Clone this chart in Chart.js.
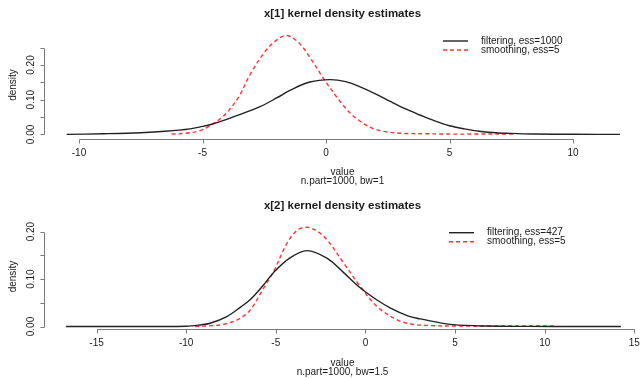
<!DOCTYPE html>
<html lang="en">
<head>
<meta charset="UTF-8">
<title>kernel density estimates</title>
<script src="https://cdn.jsdelivr.net/npm/chart.js"></script>
<style>
  body { margin: 0; background: #fff; }
  canvas { position: absolute; left: 0; }
  #c1 { top: 0; }
  #c2 { top: 189px; }
</style>
</head>
<body>
<canvas id="c1" width="641" height="189"></canvas>
<canvas id="c2" width="641" height="189"></canvas>
<script>
// panel 1: x[1]
const filtX1 = [-10.5, -9, -7.5, -6.5, -5.5, -5, -4.7, -4.2, -3.5, -2.67, -2, -1.46, -0.65, 0.16, 0.8, 1.38, 2, 2.6, 3.2, 3.8, 4.4, 5, 5.6, 6.2, 7, 7.45, 8.5, 10, 11.9];
const filtY1 = [0.000, 0.002, 0.005, 0.009, 0.016, 0.023, 0.028, 0.039, 0.057, 0.080, 0.105, 0.127, 0.151, 0.158, 0.152, 0.137, 0.117, 0.095, 0.074, 0.056, 0.039, 0.025, 0.016, 0.009, 0.004, 0.003, 0.001, 0.0005, 0.000];
const smthX1 = [-6.25, -5.6, -5.1, -4.63, -4.2, -3.9, -3.5, -3.08, -2.54, -2.1, -1.6, -1.1, -0.65, -0.1, 0.57, 1.0, 1.38, 1.8, 2.19, 2.6, 3.1, 4, 5, 6, 7.7];
const smthY1 = [0.001, 0.004, 0.011, 0.028, 0.050, 0.072, 0.112, 0.172, 0.232, 0.266, 0.285, 0.264, 0.222, 0.161, 0.095, 0.060, 0.038, 0.020, 0.011, 0.006, 0.003, 0.002, 0.001, 0.001, 0.001];
const xTicks1 = [-10, -5, 0, 5, 10];
const yTicks1 = [0, 0.05, 0.10, 0.15, 0.20, 0.25];
const yLabels1 = ['0.00', '', '0.10', '', '0.20', ''];

// panel 2: x[2]
const filtX2 = [-16.7, -12, -10, -9.3, -8.66, -7.73, -6.96, -6.42, -5.7, -5.12, -4.19, -3.26, -2.15, -1.2, -0.28, 0.6, 1.4, 2.4, 3.07, 3.6, 4.9, 6.8, 9, 12, 14.25];
const filtY2 = [0, 0, 0.0005, 0.003, 0.007, 0.021, 0.041, 0.057, 0.087, 0.114, 0.145, 0.160, 0.144, 0.113, 0.081, 0.057, 0.039, 0.022, 0.016, 0.012, 0.004, 0.001, 0.0003, 0, 0];
const smthX2 = [-9.5, -8.5, -8, -7.5, -7, -6.42, -5.68, -5.12, -4.37, -3.8, -3.26, -2.7, -2.15, -1.2, -0.28, 0.65, 1.77, 2.6, 3.6, 5, 7, 10.5];
const smthY2 = [0, 0.002, 0.004, 0.009, 0.017, 0.035, 0.081, 0.116, 0.176, 0.203, 0.209, 0.201, 0.183, 0.133, 0.084, 0.042, 0.014, 0.005, 0.002, 0.001, 0.001, 0.001];
const xTicks2 = [-15, -10, -5, 0, 5, 10, 15];
const yTicks2 = [0, 0.05, 0.10, 0.15, 0.20];
const yLabels2 = ['0.00', '', '0.10', '', '0.20'];

const ink = '#1a1a1a';
const axisCol = '#7a7a7a';

function pts(xs, ys) {
    return xs.map((x, i) => ({ x: x, y: ys[i] }));
}

// R-style axes, titles and legend drawn from the chart's own scales
const rStyle = {
    id: 'rStyle',
    afterDraw(chart, args, o) {
        const ctx = chart.ctx;
        const xs = chart.scales.x, ys = chart.scales.y, a = chart.chartArea;
        ctx.save();
        ctx.strokeStyle = axisCol;
        ctx.lineWidth = 1;
        ctx.fillStyle = ink;
        ctx.font = '10px "Liberation Sans", Arial, sans-serif';

        // x axis
        const yb = Math.round(a.bottom) + 0.5;
        ctx.beginPath();
        ctx.moveTo(Math.round(xs.getPixelForValue(o.xTicks[0])) + 0.5, yb);
        ctx.lineTo(Math.round(xs.getPixelForValue(o.xTicks[o.xTicks.length - 1])) + 0.5, yb);
        o.xTicks.forEach(t => {
            const px = Math.round(xs.getPixelForValue(t)) + 0.5;
            ctx.moveTo(px, yb);
            ctx.lineTo(px, yb + 4);
        });
        ctx.stroke();
        ctx.textAlign = 'center';
        ctx.textBaseline = 'middle';
        o.xTicks.forEach(t => {
            ctx.fillText(String(t), xs.getPixelForValue(t), yb + 13.5);
        });

        // y axis
        const xl = Math.round(a.left) + 0.5;
        ctx.beginPath();
        ctx.moveTo(xl, Math.round(ys.getPixelForValue(o.yTicks[0])) + 0.5);
        ctx.lineTo(xl, Math.round(ys.getPixelForValue(o.yTicks[o.yTicks.length - 1])) + 0.5);
        o.yTicks.forEach(t => {
            const py = Math.round(ys.getPixelForValue(t)) + 0.5;
            ctx.moveTo(xl, py);
            ctx.lineTo(xl - 4, py);
        });
        ctx.stroke();
        o.yTicks.forEach((t, i) => {
            if (!o.yLabels[i]) return;
            ctx.save();
            ctx.translate(31, ys.getPixelForValue(t));
            ctx.rotate(-Math.PI / 2);
            ctx.fillText(o.yLabels[i], 0, 0);
            ctx.restore();
        });

        // axis titles
        const cx = (a.left + a.right) / 2;
        ctx.fillText('value', cx, o.xlabY);
        ctx.fillText(o.sub, cx, o.subY);
        ctx.save();
        ctx.translate(13.5, (a.top + a.bottom) / 2);
        ctx.rotate(-Math.PI / 2);
        ctx.fillText('density', 0, 0);
        ctx.restore();

        // main title
        ctx.font = 'bold 11.5px "Liberation Sans", Arial, sans-serif';
        ctx.fillText(o.title, cx, o.titleY);

        // legend
        ctx.font = '10px "Liberation Sans", Arial, sans-serif';
        ctx.textAlign = 'left';
        chart.data.datasets.forEach((ds, i) => {
            const ly = o.legY + i * 9;
            ctx.save();
            ctx.strokeStyle = ds.borderColor;
            ctx.lineWidth = ds.borderWidth;
            ctx.setLineDash(ds.borderDash || []);
            ctx.beginPath();
            ctx.moveTo(o.legX, ly);
            ctx.lineTo(o.legX + 25, ly);
            ctx.stroke();
            ctx.restore();
            ctx.fillText(ds.label, o.legX + 38, ly);
        });
        ctx.restore();
    }
};

function makeChart(id, fx, fy, sx, sy, ess, box, axes) {
    return new Chart(document.getElementById(id), {
        type: 'line',
        data: {
            datasets: [{
                label: 'filtering, ess=' + ess,
                data: pts(fx, fy),
                borderColor: '#222',
                borderWidth: 1.4,
                pointRadius: 0,
                tension: 0.35,
                fill: false
            }, {
                label: 'smoothing, ess=5',
                data: pts(sx, sy),
                borderColor: 'rgba(255, 30, 30, 0.9)',
                borderWidth: 1.4,
                borderDash: [4, 3],
                pointRadius: 0,
                tension: 0.35,
                fill: false
            }]
        },
        options: {
            responsive: false,
            devicePixelRatio: 1,
            animation: false,
            layout: { padding: box.padding },
            scales: {
                x: { type: 'linear', display: false, min: box.xmin, max: box.xmax },
                y: { type: 'linear', display: false, min: box.ymin, max: box.ymax }
            },
            plugins: {
                legend: { display: false },
                tooltip: { enabled: false },
                rStyle: axes
            }
        },
        plugins: [rStyle]
    });
}

makeChart('c1', filtX1, filtY1, smthX1, smthY1, 1000,
    { padding: { left: 44, right: 0, top: 31, bottom: 50 }, xmin: -11.417, xmax: 12.753, ymin: -0.0132, ymax: 0.298 },
    { xTicks: xTicks1, yTicks: yTicks1, yLabels: yLabels1, title: 'x[1] kernel density estimates',
      titleY: 14, xlabY: 172, sub: 'n.part=1000, bw=1', subY: 181, legX: 443, legY: 41 });

makeChart('c2', filtX2, filtY2, smthX2, smthY2, 427,
    { padding: { left: 44, right: 0, top: 35, bottom: 49 }, xmin: -17.93, xmax: 15.37, ymin: -0.0052, ymax: 0.216 },
    { xTicks: xTicks2, yTicks: yTicks2, yLabels: yLabels2, title: 'x[2] kernel density estimates',
      titleY: 17, xlabY: 174.3, sub: 'n.part=1000, bw=1.5', subY: 183.5, legX: 449, legY: 43.7 });
</script>
</body>
</html>
